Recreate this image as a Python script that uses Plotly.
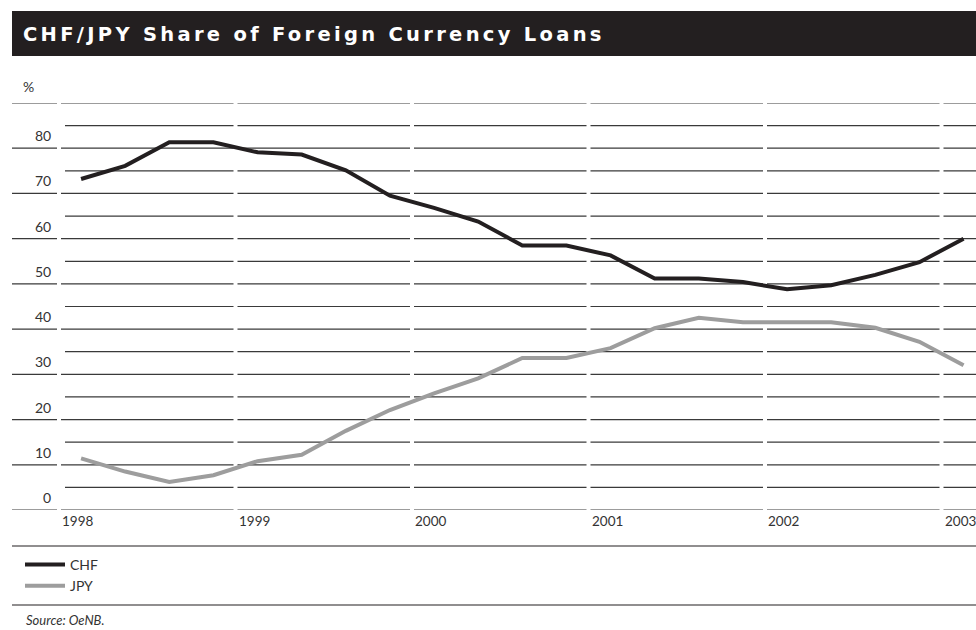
import plotly.graph_objects as go

# Quarterly shares of foreign currency loans, % (Q1 1998 - Q1 2003)
quarters = ["1998Q1", "1998Q2", "1998Q3", "1998Q4",
            "1999Q1", "1999Q2", "1999Q3", "1999Q4",
            "2000Q1", "2000Q2", "2000Q3", "2000Q4",
            "2001Q1", "2001Q2", "2001Q3", "2001Q4",
            "2002Q1", "2002Q2", "2002Q3", "2002Q4",
            "2003Q1"]
chf = [73.2, 76.1, 81.3, 81.3, 79.1, 78.6, 75.1, 69.5, 66.8, 63.8, 58.5,
       58.5, 56.3, 51.2, 51.2, 50.4, 48.8, 49.7, 52.0, 54.8, 60.0]
jpy = [11.4, 8.5, 6.2, 7.7, 10.8, 12.2, 17.5, 22.1, 25.8, 29.1, 33.6,
       33.6, 35.8, 40.2, 42.5, 41.5, 41.5, 41.5, 40.3, 37.2, 32.0]
years = [1998, 1999, 2000, 2001, 2002, 2003]
y_ticks = [0, 10, 20, 30, 40, 50, 60, 70, 80]

TITLE = "CHF/JPY Share of Foreign Currency Loans"
SOURCE = "Source: OeNB."

# each quarter is plotted in the middle of its period
xq = [int(q[:4]) + (int(q[-1]) - 0.5) / 4 for q in quarters]

W, H = 976, 630
L, R, T, B = 12, 0, 103, 120
PX_PER_YEAR = 176.5
X_MIN = 1998 - 47 / PX_PER_YEAR
X_MAX = X_MIN + (W - L - R) / PX_PER_YEAR
Y_MAX = 90
PLOT_H = H - T - B


def px(p):
    """Horizontal pixel -> paper coordinate."""
    return (p - L) / (W - L - R)


def py(p):
    """Vertical pixel -> paper coordinate."""
    return (H - B - p) / PLOT_H


FONT = "Lato, 'Open Sans', sans-serif"
TXT = "#333333"
GRID = "#3a3a3a"

fig = go.Figure()
fig.add_trace(go.Scatter(x=xq, y=chf, mode="lines", name="CHF",
                         line=dict(color="#231f20", width=4)))
fig.add_trace(go.Scatter(x=xq, y=jpy, mode="lines", name="JPY",
                         line=dict(color="#9d9d9d", width=4)))

# horizontal rules, broken at every year boundary
gap = 2 / PX_PER_YEAR
shapes = []
for v in range(0, Y_MAX + 1, 5):
    major = v % 10 == 0
    segs = []
    if major:
        segs.append((X_MIN, years[0] - gap))
    start = years[0] + (gap if major else 6 / PX_PER_YEAR)
    for yr in years[1:]:
        segs.append((start, yr - gap))
        start = yr + gap
    segs.append((start, X_MAX + 0.05))
    for a, b in segs:
        shapes.append(dict(type="line", xref="x", yref="y", x0=a, x1=b,
                           y0=v, y1=v, line=dict(color=GRID, width=1.2),
                           layer="below"))

# title bar
shapes.append(dict(type="rect", xref="paper", yref="paper",
                   x0=0, x1=1, y0=py(56), y1=py(11),
                   fillcolor="#231f20", line=dict(width=0)))
# rules framing the legend
for yy in (546, 605):
    shapes.append(dict(type="line", xref="paper", yref="paper",
                       x0=0, x1=1, y0=py(yy), y1=py(yy),
                       line=dict(color="#231f20", width=1.2)))

ann = [dict(text=f"<span style='letter-spacing:3.3px'><b>{TITLE}</b></span>",
            xref="paper", yref="paper",
            x=px(21), y=py(34), xanchor="left", yanchor="middle",
            showarrow=False,
            font=dict(family="'DejaVu Sans', sans-serif", size=19.5,
                      color="white")),
       dict(text="%", xref="paper", yref="paper", x=px(21), y=py(87),
            xanchor="left", yanchor="middle", showarrow=False,
            font=dict(family=FONT, size=14, color=TXT)),
       dict(text=f"<i>{SOURCE}</i>", xref="paper", yref="paper",
            x=px(24), y=py(620), xanchor="left", yanchor="middle",
            showarrow=False, font=dict(family=FONT, size=13, color=TXT))]

for v in y_ticks:
    ann.append(dict(text=str(v), xref="x", yref="y",
                    x=X_MIN + 41 / PX_PER_YEAR, y=v,
                    xanchor="right", yanchor="bottom", yshift=2,
                    showarrow=False, font=dict(family=FONT, size=14, color=TXT)))
for yr in years:
    ann.append(dict(text=str(yr), xref="x", yref="y",
                    x=yr + 1 / PX_PER_YEAR, y=0,
                    xanchor="left", yanchor="top", yshift=-1,
                    showarrow=False,
                    font=dict(family=FONT, size=13.5, color=TXT)))

fig.update_layout(
    width=W, height=H,
    margin=dict(l=L, r=R, t=T, b=B),
    paper_bgcolor="white", plot_bgcolor="white",
    xaxis=dict(range=[X_MIN, X_MAX], showgrid=False, zeroline=False,
               showticklabels=False, fixedrange=True),
    yaxis=dict(range=[0, Y_MAX], showgrid=False, zeroline=False,
               showticklabels=False, fixedrange=True),
    shapes=shapes,
    annotations=ann,
    showlegend=True,
    legend=dict(x=px(20), y=py(549), xanchor="left", yanchor="top",
                bgcolor="rgba(0,0,0,0)", borderwidth=0,
                font=dict(family=FONT, size=14, color=TXT),
                tracegroupgap=0, itemwidth=40),
)

fig.write_html("out.html")
